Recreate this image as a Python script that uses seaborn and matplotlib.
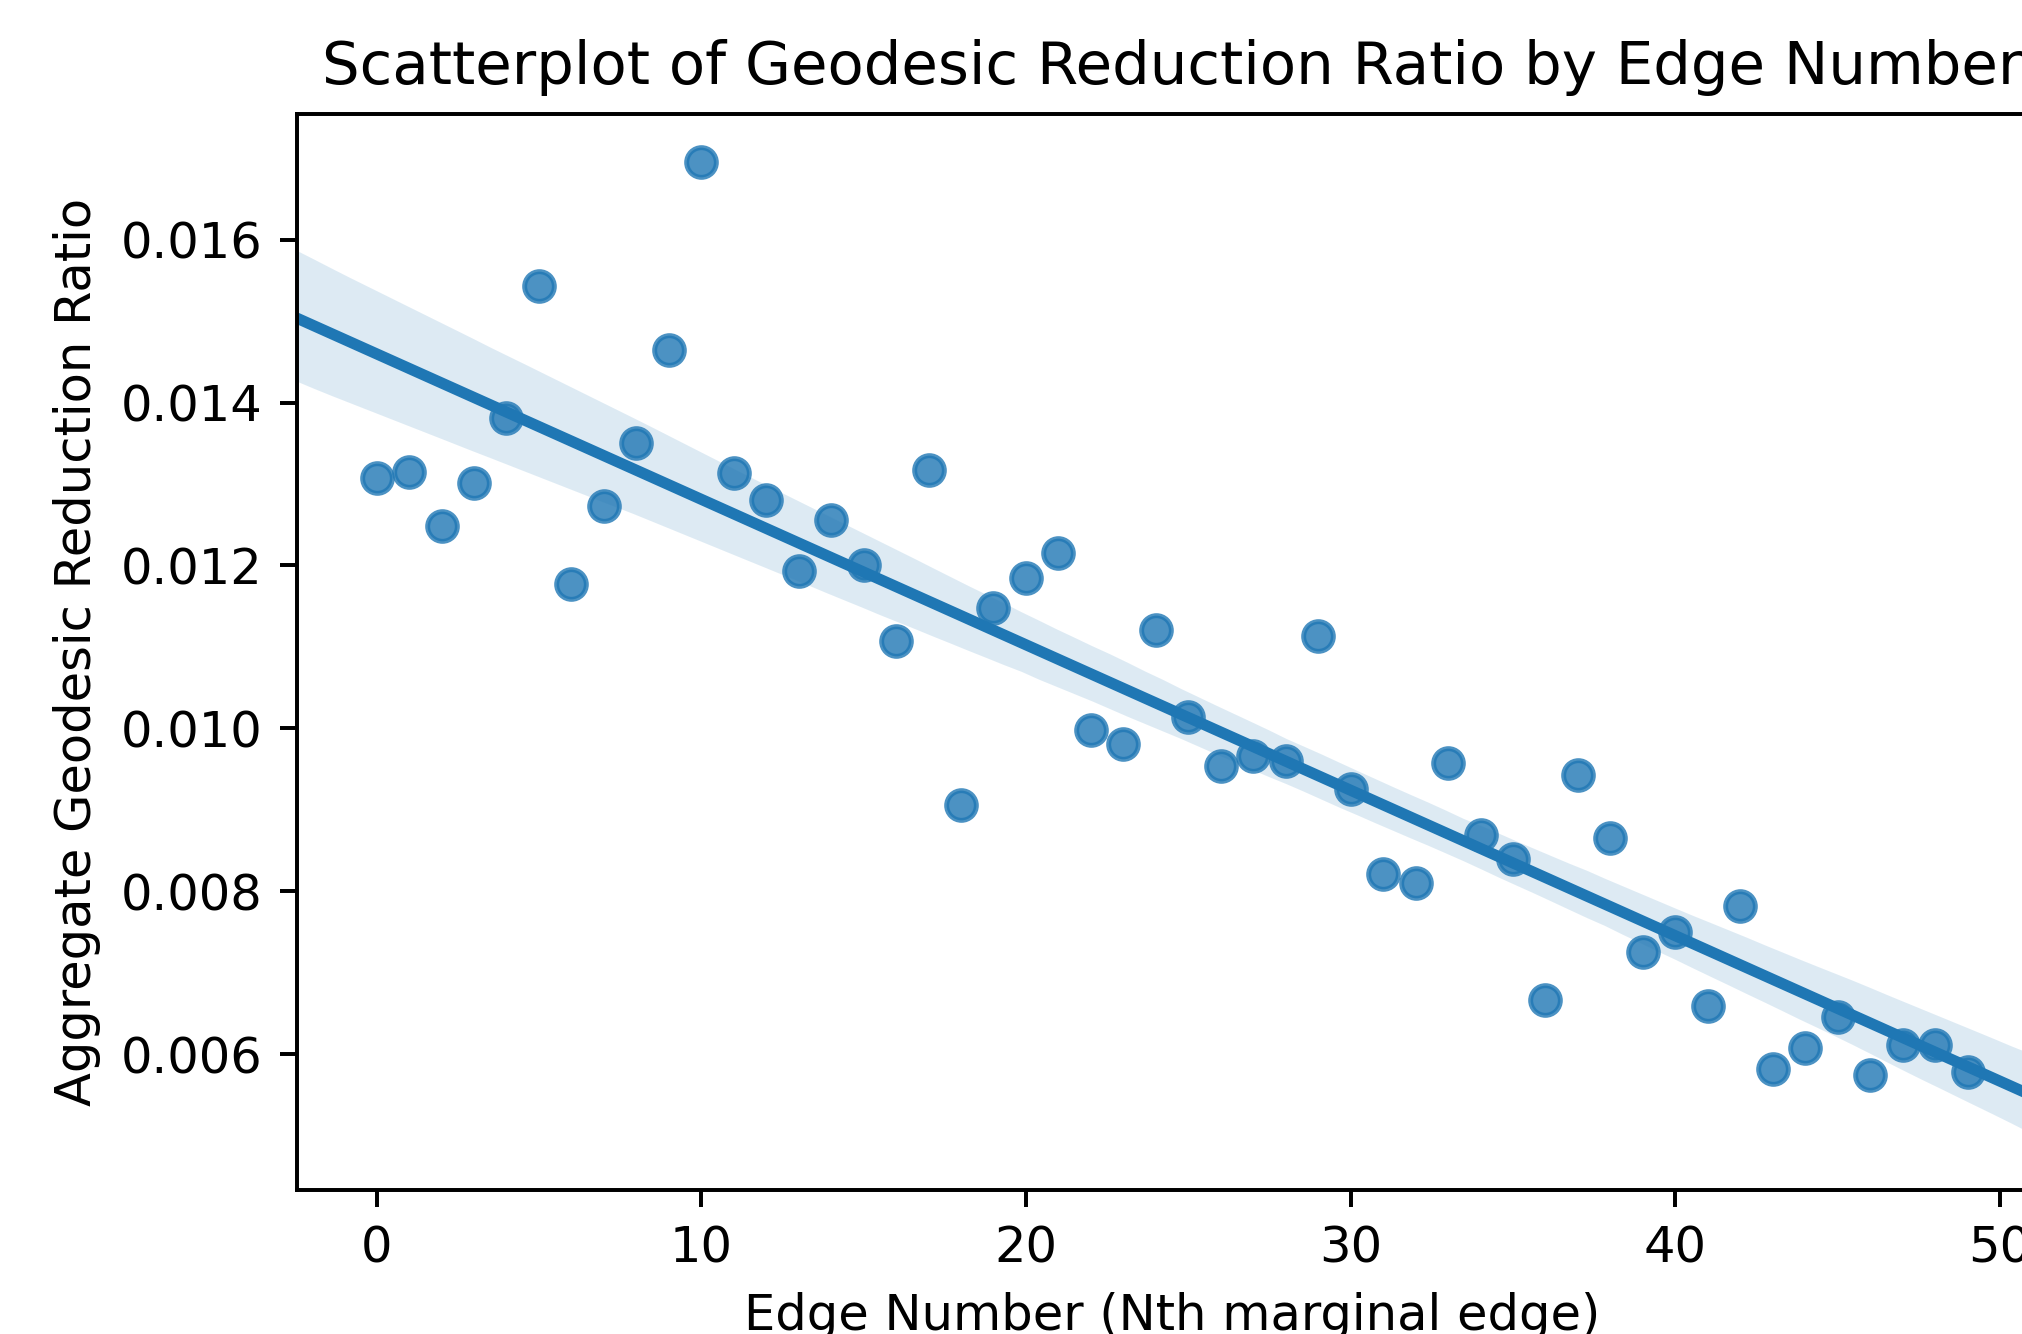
import numpy as np
import pandas as pd
import matplotlib
matplotlib.use("Agg")
import matplotlib.pyplot as plt
import seaborn as sns

# values
edge_number = list(range(50))
reduction_ratio = [
    0.01308, 0.01315, 0.01249, 0.01301, 0.01381, 0.01543, 0.01177, 0.01273, 0.01351, 0.01464,
    0.01696, 0.01314, 0.01281, 0.01193, 0.01256, 0.01201, 0.01107, 0.01317, 0.00906, 0.01148,
    0.01185, 0.01215, 0.00998, 0.00981, 0.01121, 0.01014, 0.00954, 0.00966, 0.00960, 0.01114,
    0.00926, 0.00821, 0.00810, 0.00957, 0.00869, 0.00840, 0.00666, 0.00943, 0.00865, 0.00725,
    0.00750, 0.00659, 0.00782, 0.00582, 0.00607, 0.00646, 0.00574, 0.00611, 0.00611, 0.00578,
]

df = pd.DataFrame({"edge": edge_number, "ratio": reduction_ratio})

dpi = 356
fig = plt.figure(figsize=(2022 / dpi, 1334 / dpi), dpi=dpi)
ax = fig.add_axes([0.1469, 0.1079, 0.8655, 0.807])

ax.set_xlim(-2.45, 51.45)
ax.set_ylim(0.00433, 0.01755)
sns.regplot(data=df, x="edge", y="ratio", ax=ax, truncate=False, seed=0)
ax.set_xlim(-2.45, 51.45)
ax.set_ylim(0.00433, 0.01755)

ax.set_title("Scatterplot of Geodesic Reduction Ratio by Edge Number")
ax.set_xlabel("Edge Number (Nth marginal edge)")
ax.set_ylabel("Aggregate Geodesic Reduction Ratio")

fig.savefig("out.png", dpi=dpi)
